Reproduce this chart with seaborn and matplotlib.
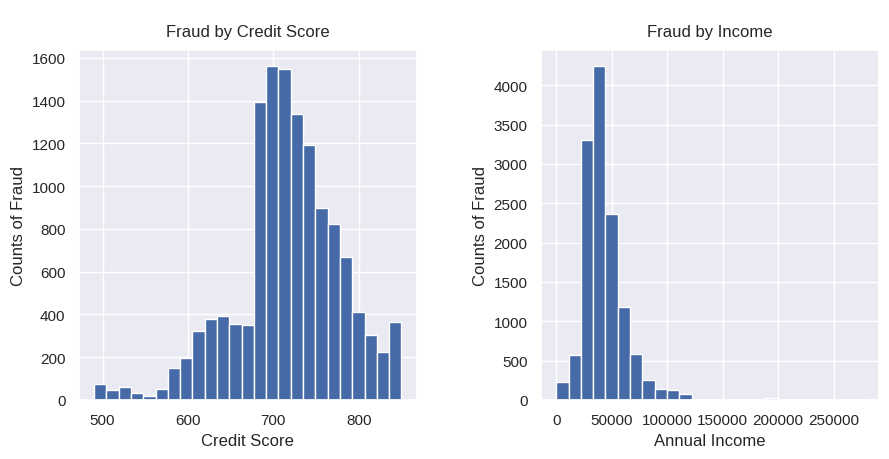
import numpy as np
import pandas as pd
import seaborn as sns
import matplotlib.pyplot as plt

sns.set_theme(style="darkgrid")
plt.rcParams['font.family'] = ['Liberation Sans', 'DejaVu Sans']

# credit score histogram: 25 bins between 490 and 850
credit_edges = np.linspace(490, 850, 26)
credit_counts = [75, 48, 62, 34, 18, 53, 151, 198, 323, 378, 392, 356, 351,
                 1392, 1560, 1546, 1336, 1190, 900, 823, 667, 411, 305, 225, 364]

# annual income histogram: 25 bins between 0 and 277000
income_edges = np.linspace(0, 277000, 26)
income_counts = [230, 575, 3300, 4240, 2360, 1180, 585, 250, 145, 130, 80, 5,
                 0, 0, 3, 0, 2, 22, 0, 0, 0, 0, 0, 0, 1]

credit_df = pd.DataFrame({"score": (credit_edges[:-1] + credit_edges[1:]) / 2,
                          "n": credit_counts})
income_df = pd.DataFrame({"income": (income_edges[:-1] + income_edges[1:]) / 2,
                          "n": income_counts})

fig, axes = plt.subplots(1, 2, figsize=(8.89, 4.6), dpi=100)
fig.subplots_adjust(left=0.0885, right=0.9888, top=0.8898, bottom=0.1283, wspace=0.367)

bar_kw = dict(color="#4669a7", alpha=1, edgecolor="white", linewidth=1)

sns.histplot(data=credit_df, x="score", weights="n", bins=list(credit_edges), ax=axes[0], **bar_kw)
axes[0].set_title("Fraud by Credit Score", fontsize=12, pad=10)
axes[0].set_xlabel("Credit Score", fontsize=12)
axes[0].set_ylabel("Counts of Fraud", fontsize=12)

sns.histplot(data=income_df, x="income", weights="n", bins=list(income_edges), ax=axes[1], **bar_kw)
axes[1].set_title("Fraud by Income", fontsize=12, pad=10)
axes[1].set_xlabel("Annual Income", fontsize=12)
axes[1].set_ylabel("Counts of Fraud", fontsize=12)

for ax in axes:
    ax.tick_params(labelsize=11)

fig.savefig("out.png")
